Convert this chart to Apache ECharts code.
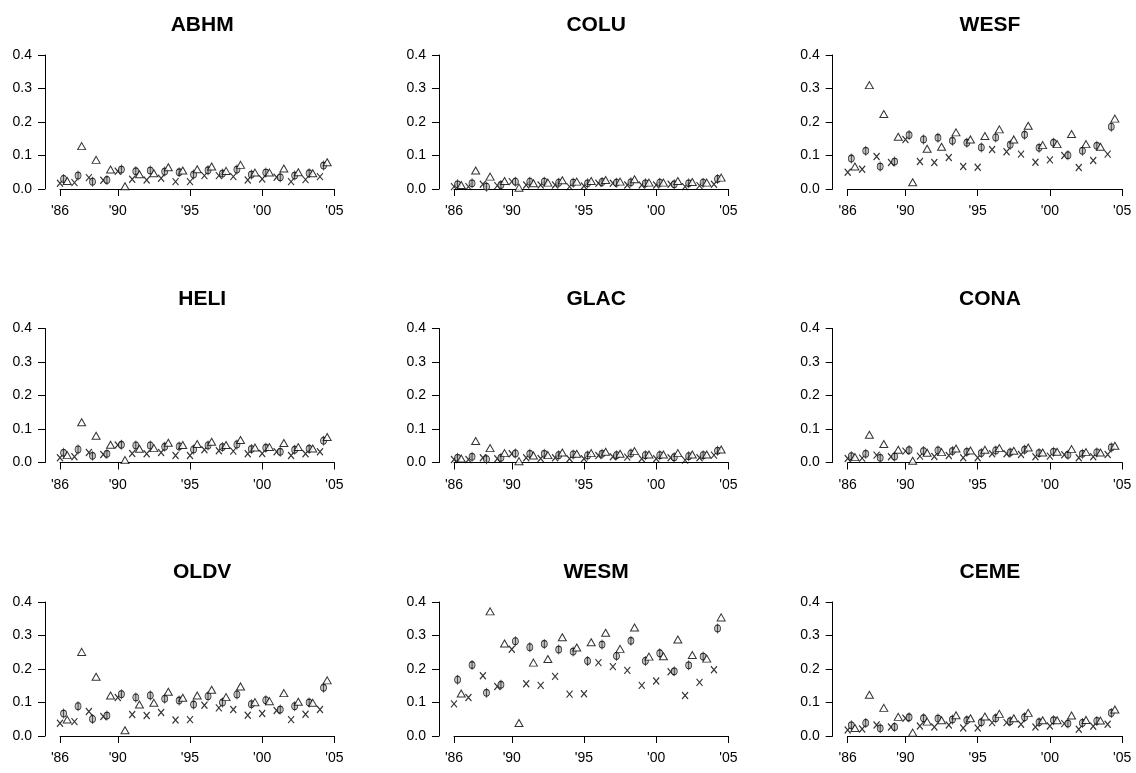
<!DOCTYPE html>
<html><head><meta charset="utf-8">
<script src="https://cdn.jsdelivr.net/npm/echarts@6/dist/echarts.min.js"></script>
<style>html,body{margin:0;padding:0;background:#fff}#c{width:1136px;height:773px}</style>
</head><body><div id="c"></div>
<script>
// ---- data ----
const years = [1986,1987,1988,1989,1990,1991,1992,1993,1994,1995,1996,1997,1998,1999,2000,2001,2002,2003,2004];
const xTicks = [1986,1990,1995,2000,2005];
const xTickLabels = ["'86","'90","'95","'00","'05"];
const panelNames = ["ABHM","COLU","WESF","HELI","GLAC","CONA","OLDV","WESM","CEME"];

const ABHM_x = [0.017,0.019,0.034,0.026,0.053,0.029,0.027,0.032,0.022,0.022,0.040,0.040,0.037,0.027,0.030,0.035,0.022,0.028,0.037];
const ABHM_o = [0.030,0.040,0.022,0.027,0.058,0.053,0.055,0.052,0.050,0.043,0.056,0.046,0.058,0.043,0.049,0.035,0.040,0.047,0.070];
const ABHM_t = [0.024,0.128,0.087,0.058,0.008,0.044,0.047,0.065,0.055,0.059,0.067,0.054,0.072,0.049,0.049,0.061,0.050,0.047,0.080];

const COLU_x = [0.007,0.007,0.014,0.010,0.022,0.012,0.012,0.012,0.007,0.009,0.017,0.017,0.012,0.012,0.012,0.014,0.007,0.010,0.014];
const COLU_o = [0.014,0.017,0.007,0.012,0.022,0.022,0.022,0.019,0.019,0.017,0.021,0.019,0.020,0.017,0.019,0.014,0.017,0.019,0.030];
const COLU_t = [0.012,0.055,0.037,0.024,0.004,0.017,0.019,0.026,0.022,0.024,0.027,0.022,0.029,0.019,0.019,0.024,0.021,0.019,0.034];

const WESF_x = [0.050,0.059,0.097,0.079,0.148,0.082,0.079,0.094,0.067,0.065,0.118,0.111,0.104,0.080,0.087,0.100,0.064,0.085,0.104];
const WESF_o = [0.091,0.114,0.067,0.082,0.161,0.148,0.153,0.144,0.138,0.124,0.154,0.132,0.162,0.123,0.138,0.101,0.114,0.129,0.186];
const WESF_t = [0.067,0.310,0.224,0.156,0.020,0.120,0.126,0.169,0.148,0.158,0.178,0.148,0.189,0.131,0.134,0.164,0.134,0.126,0.210];

const HELI_x = [0.014,0.017,0.030,0.024,0.052,0.027,0.026,0.030,0.021,0.021,0.038,0.035,0.034,0.026,0.027,0.032,0.021,0.026,0.032];
const HELI_o = [0.029,0.039,0.020,0.026,0.053,0.051,0.051,0.047,0.048,0.039,0.051,0.046,0.054,0.040,0.044,0.032,0.038,0.041,0.065];
const HELI_t = [0.022,0.120,0.080,0.053,0.007,0.041,0.043,0.059,0.052,0.055,0.062,0.052,0.067,0.045,0.046,0.058,0.046,0.042,0.076];

const GLAC_x = [0.009,0.009,0.014,0.011,0.026,0.014,0.012,0.014,0.011,0.011,0.021,0.017,0.016,0.011,0.011,0.014,0.007,0.014,0.022];
const GLAC_o = [0.014,0.017,0.010,0.014,0.027,0.026,0.026,0.022,0.024,0.021,0.026,0.022,0.027,0.022,0.022,0.016,0.019,0.022,0.035];
const GLAC_t = [0.012,0.064,0.043,0.028,0.004,0.021,0.022,0.030,0.026,0.028,0.032,0.026,0.034,0.024,0.024,0.028,0.024,0.024,0.039];

const CONA_x = [0.012,0.013,0.022,0.017,0.034,0.019,0.018,0.021,0.014,0.014,0.026,0.026,0.024,0.017,0.019,0.023,0.014,0.017,0.024];
const CONA_o = [0.019,0.026,0.014,0.018,0.037,0.034,0.036,0.034,0.032,0.028,0.036,0.030,0.038,0.028,0.032,0.023,0.026,0.030,0.045];
const CONA_t = [0.016,0.083,0.055,0.038,0.005,0.029,0.031,0.042,0.036,0.038,0.043,0.035,0.045,0.030,0.032,0.040,0.031,0.030,0.050];

const OLDV_x = [0.038,0.043,0.073,0.058,0.115,0.064,0.061,0.070,0.048,0.049,0.092,0.084,0.079,0.062,0.067,0.076,0.049,0.065,0.079];
const OLDV_o = [0.067,0.089,0.051,0.061,0.125,0.115,0.121,0.111,0.106,0.094,0.119,0.100,0.124,0.095,0.107,0.079,0.089,0.100,0.144];
const OLDV_t = [0.049,0.251,0.177,0.121,0.017,0.094,0.099,0.132,0.114,0.121,0.138,0.116,0.148,0.101,0.104,0.128,0.102,0.099,0.166];

const WESM_x = [0.096,0.115,0.180,0.148,0.259,0.156,0.151,0.178,0.125,0.126,0.219,0.207,0.196,0.151,0.164,0.192,0.121,0.160,0.198];
const WESM_o = [0.168,0.212,0.129,0.153,0.283,0.265,0.275,0.258,0.252,0.224,0.273,0.239,0.284,0.224,0.247,0.193,0.211,0.237,0.321];
const WESM_t = [0.127,null,0.372,0.276,0.039,0.219,0.230,0.295,0.264,0.280,0.308,0.260,0.324,0.237,0.238,0.288,0.242,0.231,0.354];

const CEME_x = [0.018,0.021,0.033,0.027,0.053,0.030,0.027,0.033,0.024,0.024,0.040,0.040,0.035,0.027,0.030,0.037,0.020,0.029,0.035];
const CEME_o = [0.032,0.039,0.023,0.027,0.056,0.053,0.052,0.049,0.047,0.041,0.053,0.044,0.056,0.041,0.047,0.037,0.039,0.045,0.069];
const CEME_t = [0.024,0.123,0.084,0.057,0.010,0.043,0.047,0.062,0.053,0.058,0.066,0.053,0.069,0.047,0.047,0.061,0.048,0.046,0.079];

const panelData = {
  ABHM:[ABHM_x,ABHM_o,ABHM_t], COLU:[COLU_x,COLU_o,COLU_t], WESF:[WESF_x,WESF_o,WESF_t],
  HELI:[HELI_x,HELI_o,HELI_t], GLAC:[GLAC_x,GLAC_o,GLAC_t], CONA:[CONA_x,CONA_o,CONA_t],
  OLDV:[OLDV_x,OLDV_o,OLDV_t], WESM:[WESM_x,WESM_o,WESM_t], CEME:[CEME_x,CEME_o,CEME_t]
};

// ---- layout / style ----
const FONT = "'Liberation Sans', Arial, Helvetica, sans-serif";
const colLeft = [60, 454, 847.7];
const rowTop = [55, 328.5, 602];
const plotW = 274.4, plotH = 134;
const offsets = [0, 0.25, 0.5];
const symbols = [
  {symbol:'path://M0,0L6,7M6,0L0,7', size:[6,7], style:{color:'none', borderColor:'#000', borderWidth:1.2}},
  {symbol:'path://M0,5a3,3.5 0 1,0 6,0a3,3.5 0 1,0 -6,0M3,0L3,10', size:[6,10], style:{color:'#b0b0b0', borderColor:'#000', borderWidth:1}},
  {symbol:'triangle', size:[8,7], style:{color:'#fff', borderColor:'#000', borderWidth:1}}
];

const grids=[], xAxes=[], yAxes=[], series=[], titles=[];
panelNames.forEach((name, p) => {
  const r = Math.floor(p/3), c = p%3;
  grids.push({left: colLeft[c], top: rowTop[r], width: plotW, height: plotH});
  titles.push({text: name, left: colLeft[c] + plotW/2, top: rowTop[r] - 45, textAlign: 'center',
    textStyle: {fontFamily: FONT, fontWeight: 'bold', fontSize: 21, color: '#000'}});
  xAxes.push({type:'value', gridIndex:p, min:1986, max:2005, offset:5.5,
    axisLine:{show:true, lineStyle:{color:'#000', width:1}},
    axisTick:{show:true, length:7, customValues: xTicks, lineStyle:{color:'#000'}},
    axisLabel:{show:true, customValues: xTicks, margin:10, fontFamily:FONT, fontSize:14, color:'#000',
      formatter: v => xTickLabels[xTicks.indexOf(v)]},
    splitLine:{show:false}});
  yAxes.push({type:'value', gridIndex:p, min:0, max:0.4, interval:0.1, offset:15,
    axisLine:{show:true, lineStyle:{color:'#000', width:1}},
    axisTick:{show:true, length:7, lineStyle:{color:'#000'}},
    axisLabel:{show:true, margin:13, fontFamily:FONT, fontSize:14, color:'#000', formatter: v => v.toFixed(1)},
    splitLine:{show:false}});
  panelData[name].forEach((vals, k) => {
    series.push({type:'scatter', xAxisIndex:p, yAxisIndex:p, clip:false, silent:true,
      symbol: symbols[k].symbol, symbolSize: symbols[k].size, itemStyle: symbols[k].style,
      data: vals.map((v,i) => v == null ? null : [years[i] + offsets[k], v]).filter(d => d)});
  });
});

const chart = echarts.init(document.getElementById('c'), null, {renderer:'canvas'});
chart.setOption({animation:false, backgroundColor:'#fff', title:titles, grid:grids, xAxis:xAxes, yAxis:yAxes, series:series});
</script></body></html>
